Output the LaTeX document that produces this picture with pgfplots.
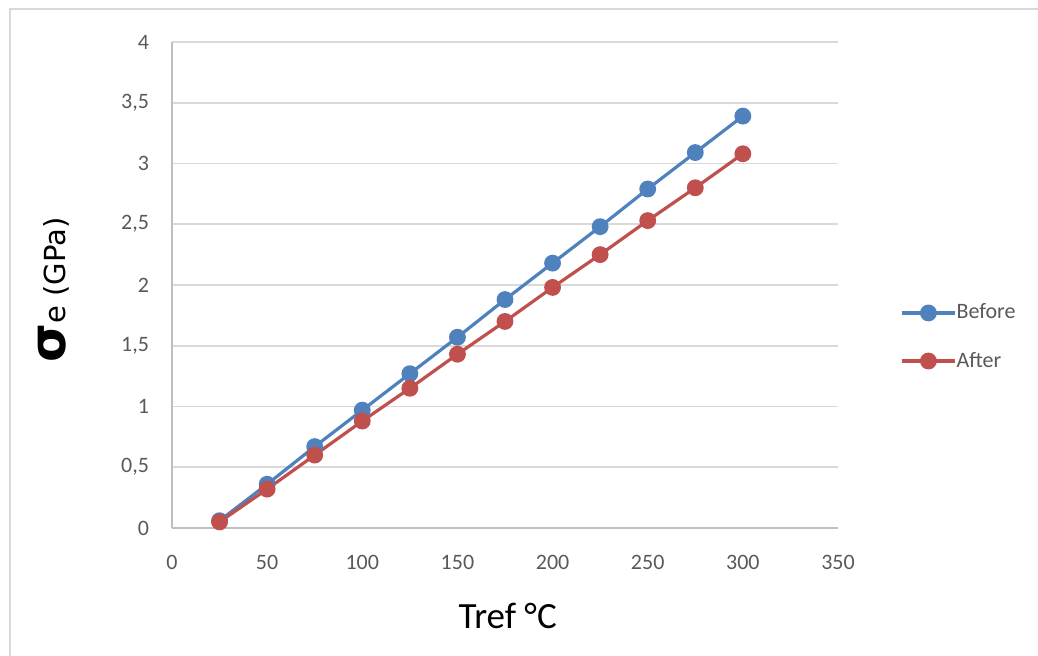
\documentclass[border=0pt]{standalone}
\usepackage{fontspec}
\setmainfont{Carlito}
\newfontfamily\dejavu{DejaVu Sans}
\usepackage{pgfplots}
\pgfplotsset{compat=1.18}
\definecolor{cBlue}{HTML}{4F81BD}
\definecolor{cRed}{HTML}{C0504D}
\definecolor{cTick}{HTML}{595959}
\definecolor{cGrid}{HTML}{D9D9D9}
\definecolor{cAxis}{HTML}{BFBFBF}
\begin{document}
\begin{tikzpicture}
\path[use as bounding box] (0,0) rectangle (519pt,328pt);
\draw[cGrid, line width=0.8pt] (5pt,0) -- (5pt,323.5pt) -- (519pt,323.5pt);
\begin{axis}[
  at={(86pt,64pt)}, anchor=south west,
  scale only axis, width=333pt, height=243pt,
  xmin=0, xmax=350, ymin=0, ymax=4,
  xtick={0,50,...,350}, ytick={0,0.5,...,4},
  axis x line=bottom, axis y line=left,
  axis line style={cAxis, line width=0.8pt, -},
  ymajorgrids, grid style={cGrid, line width=0.8pt},
  major tick length=0pt,
  tick label style={font=\fontsize{11}{13}\selectfont, text=cTick},
  /pgf/number format/assume math mode=true,
  /pgf/number format/use comma,
  yticklabel style={xshift=-8pt},
  xticklabel style={yshift=-10pt},
  xlabel={Tref °C},
  xlabel style={font=\fontsize{18.5}{20}\selectfont, at={(axis description cs:0.504,-0.2058)}, anchor=base},
  ylabel={{\fontsize{25}{25}\bfseries σ}e (GPa)},
  ylabel style={font=\dejavu\fontsize{14.5}{16}\selectfont, at={(axis description cs:-0.178,0.49)}, anchor=center},
  legend style={at={(axis description cs:1.093,0.393)}, anchor=west, draw=none, fill=none,
    font=\fontsize{11}{13}\selectfont, text=cTick, row sep=15pt, inner sep=0pt,
    nodes={inner sep=0pt, outer sep=0pt}},
  legend cell align=left,
  legend image code/.code={\draw[mark repeat=2,mark phase=2,#1] plot coordinates {(0pt,0pt) (13.25pt,0pt) (26.5pt,0pt)};},
  legend style={/tikz/every even column/.append style={column sep=3pt}},
  clip=false,
]
\addplot[cBlue, line width=1.6pt, mark=*, mark size=3.4pt, mark options={fill=cBlue, draw=cBlue}] coordinates {
(25,0.06) (50,0.36) (75,0.67) (100,0.97) (125,1.27) (150,1.57) (175,1.88) (200,2.18) (225,2.48) (250,2.79) (275,3.09) (300,3.39)};
\addlegendentry{Before}
\addplot[cRed, line width=1.6pt, mark=*, mark size=3.4pt, mark options={fill=cRed, draw=cRed}] coordinates {
(25,0.05) (50,0.32) (75,0.60) (100,0.88) (125,1.15) (150,1.43) (175,1.70) (200,1.98) (225,2.25) (250,2.53) (275,2.80) (300,3.08)};
\addlegendentry{After}
\end{axis}
\end{tikzpicture}
\end{document}
